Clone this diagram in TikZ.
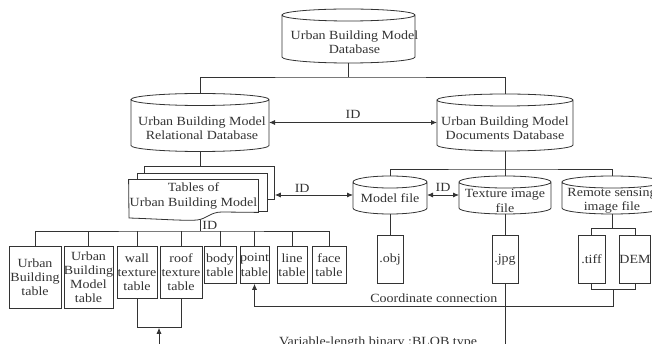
\documentclass[tikz,border=0pt]{standalone}
\usepackage{fontspec}
\setmainfont{Liberation Serif}[FakeStretch=1.12]
\usetikzlibrary{calc,positioning,arrows.meta}

% half height of the cylinder caps
\newcommand{\cry}{6}
% outline of a database cylinder round a node
\newcommand{\drawcyl}[1]{%
  \draw let \p1=(#1.north west), \p2=(#1.south east), \n1={(\x2-\x1)/2} in
    ($(#1.north west)+(0,-\cry)$) -- ($(#1.south west)+(0,\cry)$)
    arc[start angle=180, end angle=360, x radius=\n1, y radius=\cry pt]
    -- ($(#1.north east)+(0,-\cry)$)
    arc[start angle=0, end angle=360, x radius=\n1, y radius=\cry pt];}

\tikzset{
  dbcyl/.style={rectangle, inner sep=0pt, outer sep=0pt},
  dbtext/.style={align=center, yshift=-6pt, inner sep=0pt},
  tbl/.style={draw, align=center, inner sep=0pt, anchor=north},
  layer/.style={draw, fill=white, inner sep=0pt, anchor=north west}
}

\begin{document}
\begin{tikzpicture}[x=1pt, y=1pt, black!80, line width=0.8pt,
    font=\fontsize{12.5pt}{14.2pt}\selectfont,
    >={Latex[length=6pt,width=5pt]}]
  \useasboundingbox (0,0) rectangle (652,-344);

  % databases
  \node[dbcyl, minimum width=133pt, minimum height=54pt,
    label={[dbtext, xshift=6pt]center:Urban Building Model\\Database}] (topdb) at (348.5,-36) {};
  \node[dbcyl, minimum width=138pt, minimum height=58pt,
    label={[dbtext, xshift=2pt]center:Urban Building Model\\Relational Database}] (reldb) at (200,-122.5) {};
  \node[dbcyl, minimum width=136pt, minimum height=57pt,
    label={[dbtext]center:Urban Building Model\\Documents Database}] (docdb) at (505,-122.5) {};
  \node[dbcyl, minimum width=74pt, minimum height=38pt,
    label={[dbtext, yshift=3pt]center:Model file}] (mfile) at (390,-195) {};
  \node[dbcyl, minimum width=92pt, minimum height=38pt,
    label={[dbtext]center:Texture image\\file}] (tfile) at (505,-195) {};
  \node[dbcyl, minimum width=100pt, minimum height=38pt,
    label={[dbtext]center:Remote sensing\\image file}] (rfile) at (612,-195) {};
  \foreach \cyl in {topdb,reldb,docdb,mfile,tfile,rfile} {\drawcyl{\cyl}}

  % stack of tables
  \node[layer, minimum width=130pt, minimum height=33pt] (tabback) at (144,-166) {};
  \node[layer, minimum width=130pt, minimum height=38pt] (tabmid) at (137,-173) {};
  \node[fill=white, align=center, inner sep=0pt, minimum width=129pt, minimum height=32pt]
    (tabfront) at (193.5,-196) {Tables of\\Urban Building Model};
  \draw (tabfront.south east) -- (tabfront.north east) -- (tabfront.north west)
    -- (129,-218) .. controls (160,-219) and (185,-221) .. (197,-220)
    .. controls (207,-219) and (210,-212) .. (222,-212) -- cycle;
  \coordinate (tabfoot) at (200,-220);

  % tables
  \node[tbl, minimum width=52pt, minimum height=62pt] (t1) at (35,-246) {Urban\\Building\\table};
  \node[tbl, minimum width=49pt, minimum height=62pt] (t2) at (88.5,-246) {Urban\\Building\\Model\\table};
  \node[tbl, minimum width=40pt, minimum height=52pt] (t3) at (137,-246) {wall\\texture\\table};
  \node[tbl, minimum width=42pt, minimum height=52pt] (t4) at (181,-246) {roof\\texture\\table};
  \node[tbl, minimum width=32pt, minimum height=37pt] (t5) at (220,-246) {body\\table};
  \node[tbl, minimum width=29pt, minimum height=37pt] (t6) at (254.5,-246) {point\\table};
  \node[tbl, minimum width=30pt, minimum height=37pt] (t7) at (292,-246) {line\\table};
  \node[tbl, minimum width=34pt, minimum height=37pt] (t8) at (329,-246) {face\\table};

  % files
  \node[tbl, minimum width=26pt, minimum height=48pt] (obj) at (390,-235) {.obj};
  \node[tbl, minimum width=26pt, minimum height=48pt] (jpg) at (505,-235) {.jpg};
  \node[tbl, minimum width=27pt, minimum height=48pt] (tiff) at (591.5,-235) {.tiff};
  \node[tbl, minimum width=30pt, minimum height=48pt] (dem) at (635,-235) {DEM};

  % tree lines
  \draw (topdb.south) -- ++(0,-14) coordinate (tophub);
  \draw (reldb.north) |- (tophub) -| (docdb.north);
  \draw[<->] (reldb.east) -- (docdb.west) node[midway, above] {ID};
  \draw (reldb.south) -- (reldb.south |- tabback.north);

  \coordinate (tblhub) at (200,-231);
  \draw (tabfoot) -- (tblhub) node[midway, right, inner sep=2pt] {ID};
  \draw (t1.north) |- (tblhub) -| (t8.north);
  \foreach \t in {t2,t3,t4,t5,t6,t7} {\draw (\t.north) -- (\t.north |- tblhub);}

  \coordinate (dochub) at ($(docdb.south)+(0,-18)$);
  \draw (docdb.south) -- (tfile.north);
  \draw (mfile.north) |- (dochub) -| (rfile.north);
  \draw[<->] (mfile.east) -- (tfile.west) node[midway, above] {ID};
  \draw[<->] (mfile.west) -- (mfile.west -| tabback.east) node[pos=0.65, above, inner sep=2pt] {ID};

  \draw (mfile.south) -- (obj.north);
  \draw (tfile.south) -- (jpg.north);
  \draw (tiff.north) -- ++(0,7) coordinate (rtop) -| (dem.north);
  \draw (rfile.south) -- (rfile.south |- rtop);
  \draw (tiff.south) -- ++(0,-6) coordinate (rbot) -| (dem.south);
  \coordinate (rbmid) at ($(rbot)!0.5!(rbot -| dem.south)$);

  % links
  \draw[->] (rbmid) -- ++(0,-17) -| (t6.south) node[pos=0.25, above] {Coordinate connection};
  \draw (t3.south) -- ++(0,-29) coordinate (wrleft) -| (t4.south);
  \coordinate (wrjoin) at ($(wrleft)!0.5!(wrleft -| t4.south)$);
  \coordinate (blob) at (378,-352);
  \draw[->] (jpg.south) |- (blob) -| (wrjoin);
  \node[above] (blobtxt) at (blob) {Variable-length binary :BLOB type};
\end{tikzpicture}
\end{document}
